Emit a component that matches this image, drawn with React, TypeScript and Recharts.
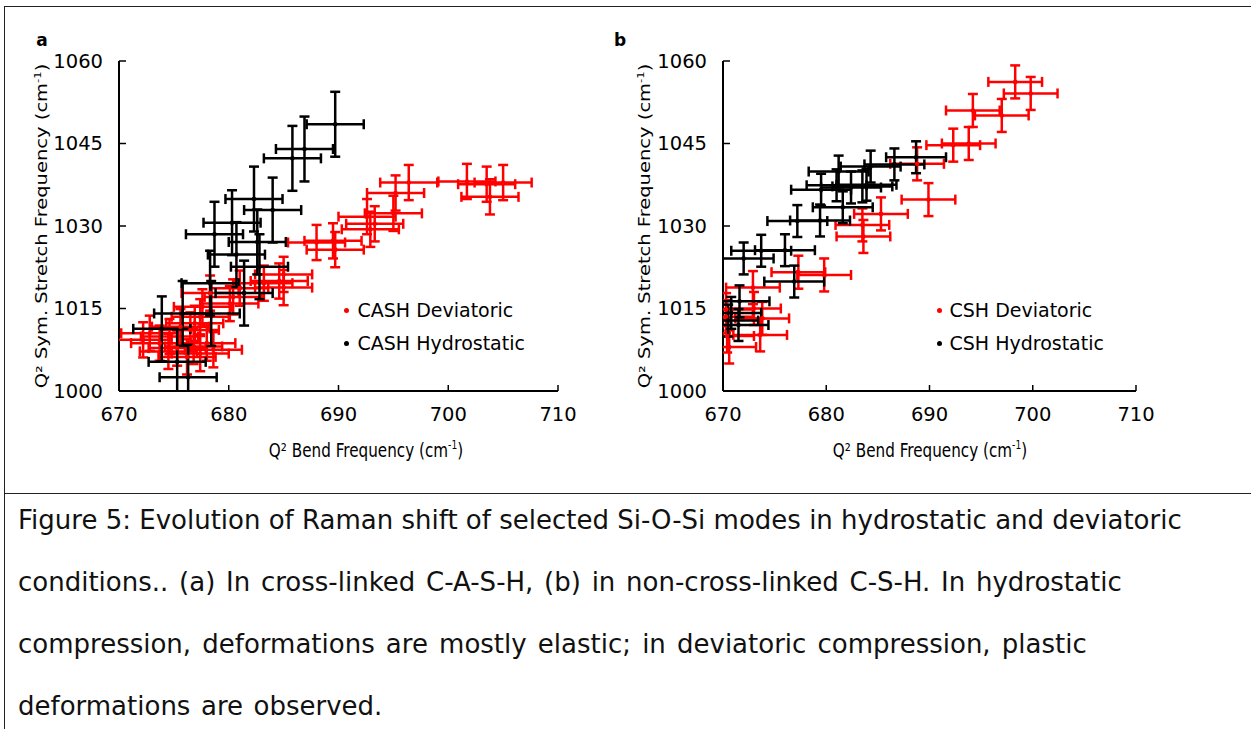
import React from 'react';
import { ScatterChart, Scatter, XAxis, YAxis, ErrorBar, Legend } from 'recharts';

const bendTicks = [670, 680, 690, 700, 710];
const stretchTicks = [1000, 1015, 1030, 1045, 1060];

// panel a : cross-linked C-A-S-H
const cashDevBend = [696.4, 695.2, 701.7, 705.0, 703.8, 703.5, 692.6, 695.0, 693.3, 692.9, 689.5, 688.0, 689.7, 685.0, 685.0, 683.2, 684.6, 680.4, 680.1, 678.3, 681.0, 677.4, 676.9, 676.5, 675.6, 674.6, 672.8, 672.2, 673.7, 675.3, 676.8, 677.4, 676.2, 678.0, 678.6, 674.5, 677.6];
const cashDevStretch = [1037.9, 1036.0, 1038.1, 1037.9, 1035.3, 1037.6, 1031.7, 1032.3, 1030.4, 1029.4, 1027.3, 1027.0, 1025.7, 1021.2, 1018.8, 1019.6, 1020.0, 1017.1, 1015.9, 1017.8, 1018.7, 1013.5, 1012.3, 1011.1, 1011.7, 1009.9, 1010.5, 1009.3, 1008.7, 1007.8, 1008.1, 1006.8, 1006.2, 1008.7, 1007.5, 1007.2, 1015.3];
const cashDevErr = { x: 2.6, y: 3.2 };

const cashHydBend = [689.7, 686.9, 685.8, 682.3, 684.0, 680.3, 678.7, 682.6, 680.7, 682.8, 681.4, 678.4, 675.8, 678.3, 673.9, 675.3, 676.3];
const cashHydStretch = [1048.5, 1044.0, 1042.3, 1034.9, 1032.9, 1030.6, 1028.5, 1027.1, 1024.8, 1022.6, 1017.8, 1014.1, 1014.1, 1019.6, 1011.3, 1005.3, 1002.5];
const cashHydErr = { x: 2.6, y: 5.9 };

// panel b : non-cross-linked C-S-H
const cshDevBend = [698.3, 699.8, 694.2, 697.0, 692.3, 693.8, 688.8, 689.9, 685.3, 683.5, 683.6, 679.8, 677.3, 672.9, 673.0, 673.8, 670.3, 670.4, 670.6, 670.3, 673.6];
const cshDevStretch = [1056.2, 1054.1, 1051.0, 1050.1, 1044.7, 1045.0, 1041.3, 1034.8, 1032.2, 1030.2, 1028.1, 1021.1, 1021.6, 1018.8, 1015.0, 1013.2, 1013.5, 1010.0, 1008.0, 1014.8, 1010.2];
const cshDevErr = { x: 2.6, y: 3.0 };

const cshHydBend = [688.7, 686.6, 684.3, 681.2, 683.9, 682.4, 681.0, 679.5, 683.5, 681.6, 679.4, 677.2, 676.0, 673.7, 672.0, 676.9, 671.6, 670.8, 670.5, 671.5];
const cshHydStretch = [1042.5, 1041.2, 1040.8, 1039.9, 1037.5, 1037.0, 1037.4, 1036.6, 1037.2, 1033.4, 1031.0, 1030.9, 1025.6, 1025.5, 1024.1, 1019.9, 1016.3, 1014.2, 1012.8, 1012.0];
const cshHydErr = { x: 2.9, y: 2.9 };

const RED = '#ff0000';
const BLACK = '#000000';
const sans = "'DejaVu Sans', sans-serif";

type Series = { name: string; color: string; bend: number[]; stretch: number[]; err: { x: number; y: number } };

const toRows = (s: Series) =>
  s.bend.map((b, i) => ({ bend: b, stretch: s.stretch[i], ex: s.err.x, ey: s.err.y }));

function Dot(props: any) {
  const { cx, cy, fill } = props;
  if (cx == null || cy == null) return <g />;
  return <circle cx={cx} cy={cy} r={2.3} fill={fill} />;
}
const NoDot = () => <g />;

function LegendBox(props: any) {
  const { payload, gap } = props;
  return (
    <div style={{ fontFamily: sans, fontSize: 19, color: '#000', lineHeight: '33px' }}>
      {(payload || []).map((p: any) => (
        <div key={p.value} style={{ display: 'flex', alignItems: 'center', whiteSpace: 'nowrap' }}>
          <span style={{ width: 5, height: 5, borderRadius: '50%', background: p.color, marginRight: gap, display: 'inline-block' }} />
          {p.value}
        </div>
      ))}
    </div>
  );
}

const axisLine = { stroke: '#000', strokeWidth: 2 };
const tickStyle = { fill: '#000', fontSize: 19.5, fontFamily: sans };
const CH = 440;

function Panel({ left, width, marginLeft, marginRight, series, legendLeft, legendGap }: any) {
  const margin = { top: 21, right: marginRight, bottom: 29, left: marginLeft };
  const plotLeft = marginLeft + 59;
  const plotTop = 21;
  const plotW = width - plotLeft - marginRight;
  const plotH = CH - plotTop - 89;
  return (
    <div style={{ position: 'absolute', left, top: 40, width, height: CH }}>
      {/* frame, ticks and legend */}
      <div style={{ position: 'absolute', left: 0, top: 0 }}>
        <ScatterChart width={width} height={CH} margin={margin}>
          <XAxis type="number" dataKey="bend" domain={[670, 710]} ticks={bendTicks} allowDataOverflow height={60}
            tickSize={-6} tickMargin={22} axisLine={axisLine} tickLine={{ stroke: '#000', strokeWidth: 1.5 }} tick={tickStyle} />
          <YAxis type="number" dataKey="stretch" domain={[1000, 1060]} ticks={stretchTicks} allowDataOverflow width={59}
            tickSize={-7} tickMargin={23} axisLine={axisLine} tickLine={{ stroke: '#000', strokeWidth: 1.5 }} tick={tickStyle} />
          <XAxis xAxisId="top" orientation="top" type="number" domain={[670, 710]} height={0} tick={false} tickLine={false} axisLine={axisLine} />
          <YAxis yAxisId="right" orientation="right" type="number" domain={[1000, 1060]} width={0} tick={false} tickLine={false} axisLine={axisLine} />
          {series.map((s: Series) => (
            <Scatter key={s.name} name={s.name} data={toRows(s)} fill={s.color} shape={<NoDot />} isAnimationActive={false} />
          ))}
          <Legend layout="vertical" align="center" verticalAlign="middle" content={<LegendBox gap={legendGap} />}
            wrapperStyle={{ left: legendLeft, top: 254, width: 'auto' }} />
        </ScatterChart>
      </div>
      {/* data layer, clipped to the plot area */}
      <div style={{ position: 'absolute', left: plotLeft, top: plotTop, width: plotW, height: plotH, overflow: 'hidden' }}>
        <div style={{ position: 'absolute', left: -plotLeft, top: -plotTop }}>
          <ScatterChart width={width} height={CH} margin={margin}>
            <XAxis type="number" dataKey="bend" domain={[670, 710]} ticks={bendTicks} allowDataOverflow height={60} tick={false} tickLine={false} axisLine={false} />
            <YAxis type="number" dataKey="stretch" domain={[1000, 1060]} ticks={stretchTicks} allowDataOverflow width={59} tick={false} tickLine={false} axisLine={false} />
            <XAxis xAxisId="top" orientation="top" type="number" domain={[670, 710]} height={0} tick={false} tickLine={false} axisLine={false} />
            <YAxis yAxisId="right" orientation="right" type="number" domain={[1000, 1060]} width={0} tick={false} tickLine={false} axisLine={false} />
            {series.map((s: Series) => (
              <Scatter key={s.name} name={s.name} data={toRows(s)} fill={s.color} shape={<Dot />} isAnimationActive={false}>
                <ErrorBar dataKey="ex" direction="x" width={5} stroke={s.color} strokeWidth={2.5} isAnimationActive={false} />
                <ErrorBar dataKey="ey" direction="y" width={5} stroke={s.color} strokeWidth={2.5} isAnimationActive={false} />
              </Scatter>
            ))}
          </ScatterChart>
        </div>
      </div>
    </div>
  );
}

const seriesA: Series[] = [
  { name: 'CASH Deviatoric', color: RED, bend: cashDevBend, stretch: cashDevStretch, err: cashDevErr },
  { name: 'CASH Hydrostatic', color: BLACK, bend: cashHydBend, stretch: cashHydStretch, err: cashHydErr },
];
const seriesB: Series[] = [
  { name: 'CSH Deviatoric', color: RED, bend: cshDevBend, stretch: cshDevStretch, err: cshDevErr },
  { name: 'CSH Hydrostatic', color: BLACK, bend: cshHydBend, stretch: cshHydStretch, err: cshHydErr },
];

const captionLines = [
  'Figure 5: Evolution of Raman shift of selected Si-O-Si modes in hydrostatic and deviatoric',
  'conditions.. (a) In cross-linked C-A-S-H, (b) in non-cross-linked C-S-H. In hydrostatic',
  'compression, deformations are mostly elastic; in deviatoric compression, plastic',
  'deformations are observed.',
];
const captionWordGap = [0, 2.5, 2.9, 2.3];

function XTitle({ x }: { x: number }) {
  return (
    <div style={{ position: 'absolute', left: x, top: 450, transform: 'translate(-50%,-50%) scaleX(0.8)', fontFamily: sans, fontSize: 19, whiteSpace: 'nowrap', lineHeight: 1 }}>
      Q² Bend Frequency (cm<sup style={{ fontSize: '0.6em' }}>-1</sup>)
    </div>
  );
}

function YTitle({ x }: { x: number }) {
  return (
    <div style={{ position: 'absolute', left: x, top: 226, transform: 'translate(-50%,-50%) rotate(-90deg) scaleY(0.8)', fontFamily: sans, fontSize: 19.5, whiteSpace: 'nowrap', lineHeight: 1 }}>
      Q² Sym. Stretch Frequency (cm<sup style={{ fontSize: '0.6em' }}>-1</sup>)
    </div>
  );
}

export default function App() {
  return (
    <div style={{ position: 'absolute', left: 0, top: 0, width: 1251, height: 729, background: '#fff', overflow: 'hidden' }}>
      <div style={{ position: 'absolute', left: 4, top: 6, width: 1260, height: 487, borderTop: '1.5px solid #222', borderLeft: '1.5px solid #222' }} />
      <div style={{ position: 'absolute', left: 4, top: 493, width: 1260, height: 240, borderTop: '1.5px solid #222', borderLeft: '1.5px solid #222' }} />

      <div style={{ position: 'absolute', left: 42, top: 40, transform: 'translate(-50%,-50%)', fontFamily: sans, fontWeight: 'bold', fontSize: 17 }}>a</div>
      <div style={{ position: 'absolute', left: 620, top: 40, transform: 'translate(-50%,-50%)', fontFamily: sans, fontWeight: 'bold', fontSize: 17 }}>b</div>

      <Panel left={20} width={560} marginLeft={40} marginRight={22} series={seriesA} legendLeft={324} legendGap={8.5} />
      <Panel left={620} width={540} marginLeft={44} marginRight={24} series={seriesB} legendLeft={317} legendGap={7.5} />

      <XTitle x={366} />
      <XTitle x={930} />
      <YTitle x={42} />
      <YTitle x={645} />

      <div style={{ position: 'absolute', left: 18, top: 489, fontFamily: sans, fontSize: 26, lineHeight: '62px', color: '#111', whiteSpace: 'nowrap' }}>
        {captionLines.map((l, i) => (
          <div key={l} style={{ wordSpacing: captionWordGap[i] }}>{l}</div>
        ))}
      </div>
    </div>
  );
}
